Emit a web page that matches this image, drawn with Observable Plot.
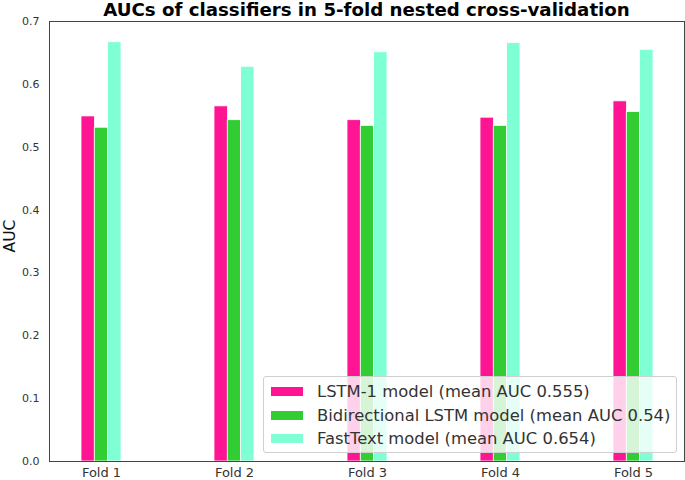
<!DOCTYPE html>
<html>
<head>
<meta charset="utf-8">
<script src="https://cdn.jsdelivr.net/npm/d3@7"></script>
<script src="https://cdn.jsdelivr.net/npm/@observablehq/plot@0.6"></script>
<style>
  html, body { margin: 0; padding: 0; background: #fff; }
  #wrap { position: relative; width: 685px; height: 480px; font-family: "DejaVu Sans", sans-serif; }
  #title { position: absolute; left: 49px; width: 635px; top: -1px; text-align: center; font-weight: bold; font-size: 18.2px; line-height: 21px; color: #000; }
  #ylabel { position: absolute; left: 10px; top: 236px; transform: translate(-50%, -50%) rotate(-90deg); font-size: 15.5px; color: #111; white-space: nowrap; }
  #legend { position: absolute; left: 263px; top: 376px; width: 414px; height: 77px; background: rgba(255,255,255,0.8); border: 1px solid #d0d0d0; border-radius: 3px; box-sizing: border-box; padding: 3px 0 0 7px; }
  .row { display: flex; align-items: center; height: 23.5px; font-size: 16.4px; color: #333; white-space: nowrap; }
  .sw { width: 32px; height: 9px; margin-right: 14px; }
</style>
</head>
<body>
<div id="wrap">
  <div id="chart"></div>
  <div id="title"></div>
  <div id="ylabel"></div>
  <div id="legend"></div>
</div>
<script>
const titleText = "AUCs of classifiers in 5-fold nested cross-validation";
const yLabel = "AUC";
const folds = ["Fold 1", "Fold 2", "Fold 3", "Fold 4", "Fold 5"];
const seriesNames = [
  "LSTM-1 model (mean AUC 0.555)",
  "Bidirectional LSTM model (mean AUC 0.54)",
  "FastText model (mean AUC 0.654)"
];
const seriesColors = ["#FF1493", "#32CD32", "#7FFFD4"];
const lstm = [0.549, 0.565, 0.543, 0.547, 0.573];
const bilstm = [0.531, 0.543, 0.534, 0.534, 0.556];
const fasttext = [0.667, 0.628, 0.651, 0.666, 0.655];
const yTicks = [0, 0.1, 0.2, 0.3, 0.4, 0.5, 0.6, 0.7];

const seriesValues = [lstm, bilstm, fasttext];
const rows = [];
seriesValues.forEach((vals, k) => vals.forEach((v, i) => rows.push({fold: folds[i], series: seriesNames[k], k, value: v})));

const bandW = 39.8;
const barW = bandW / 3;

const barMarks = seriesNames.map((name, k) =>
  Plot.barY(rows.filter(d => d.k === k), {
    x: "fold", y: "value",
    fill: seriesColors[k],
    stroke: "white", strokeWidth: 0.8,
    insetLeft: k * barW, insetRight: (2 - k) * barW
  })
);

const chart = Plot.plot({
  width: 685,
  height: 480,
  marginLeft: 49,
  marginRight: 1,
  marginTop: 21,
  marginBottom: 19,
  style: { fontFamily: "DejaVu Sans, sans-serif", background: "white" },
  x: { domain: folds, paddingInner: 0.703, paddingOuter: 0.223, label: null, tickSize: 0, tickPadding: 6 },
  y: { domain: [0, 0.7], ticks: yTicks, tickFormat: ".1f", label: null, tickSize: 0, tickPadding: 10 },
  marks: [
    ...barMarks,
    Plot.frame({ stroke: "#444", strokeWidth: 1 })
  ]
});
chart.querySelectorAll('[aria-label="x-axis tick label"]').forEach(g => { g.setAttribute("font-size", "13"); g.setAttribute("fill", "#333"); });
chart.querySelectorAll('[aria-label="y-axis tick label"]').forEach(g => { g.setAttribute("font-size", "11"); g.setAttribute("fill", "#333"); });
document.getElementById("chart").appendChild(chart);

document.getElementById("title").textContent = titleText;
document.getElementById("ylabel").textContent = yLabel;
const legend = document.getElementById("legend");
seriesNames.forEach((name, k) => {
  const row = document.createElement("div");
  row.className = "row";
  const sw = document.createElement("div");
  sw.className = "sw";
  sw.style.background = seriesColors[k];
  const t = document.createElement("span");
  t.textContent = name;
  row.appendChild(sw);
  row.appendChild(t);
  legend.appendChild(row);
});
</script>
</body>
</html>
